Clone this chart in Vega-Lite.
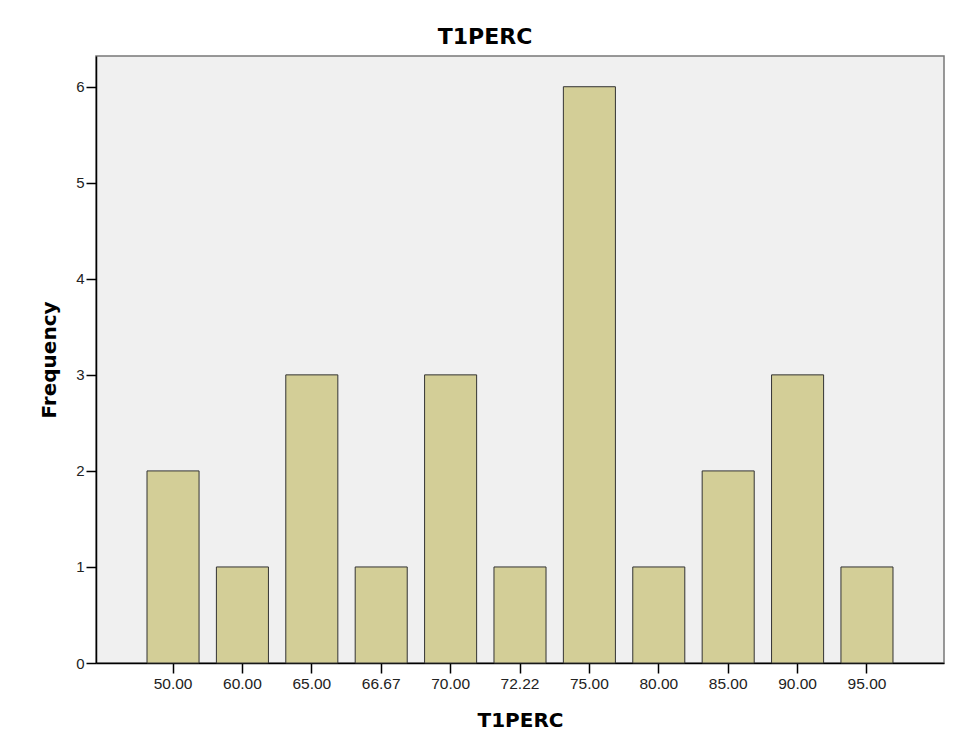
{
  "$schema": "https://vega.github.io/schema/vega-lite/v6.json",
  "autosize": {"type": "none"},
  "padding": {"left": 96, "top": 56, "right": 19, "bottom": 86},
  "width": 848,
  "height": 607,
  "background": "#ffffff",
  "title": {
    "text": "T1PERC",
    "font": "DejaVu Sans",
    "fontSize": 22,
    "fontWeight": "bold",
    "color": "#000000",
    "anchor": "middle",
    "baseline": "alphabetic",
    "offset": 12,
    "dx": -35,
    "dy": 22
  },
  "data": {
    "values": [
      {"T1PERC": "50.00", "Frequency": 2},
      {"T1PERC": "60.00", "Frequency": 1},
      {"T1PERC": "65.00", "Frequency": 3},
      {"T1PERC": "66.67", "Frequency": 1},
      {"T1PERC": "70.00", "Frequency": 3},
      {"T1PERC": "72.22", "Frequency": 1},
      {"T1PERC": "75.00", "Frequency": 6},
      {"T1PERC": "80.00", "Frequency": 1},
      {"T1PERC": "85.00", "Frequency": 2},
      {"T1PERC": "90.00", "Frequency": 3},
      {"T1PERC": "95.00", "Frequency": 1}
    ]
  },
  "mark": {"type": "bar", "fill": "#d3ce97", "stroke": "#333333", "strokeWidth": 1},
  "encoding": {
    "x": {
      "field": "T1PERC",
      "type": "ordinal",
      "sort": null,
      "scale": {"paddingInner": 0.25, "paddingOuter": 0.735},
      "axis": {
        "title": "T1PERC",
        "titleFont": "DejaVu Sans",
        "titleFontSize": 20,
        "titleFontWeight": "bold",
        "titleColor": "#000000",
        "titleBaseline": "alphabetic",
        "titleY": 63,
        "labelAngle": 0,
        "labelFont": "Liberation Sans",
        "labelFontSize": 15.5,
        "labelColor": "#222222",
        "labelPadding": 3,
        "tickSize": 10,
        "tickColor": "#000000",
        "tickWidth": 1.5,
        "domainColor": "#000000",
        "domainWidth": 1.5
      }
    },
    "y": {
      "field": "Frequency",
      "type": "quantitative",
      "scale": {"domain": [0, 6.32], "nice": false},
      "axis": {
        "title": "Frequency",
        "values": [0, 1, 2, 3, 4, 5, 6],
        "format": "d",
        "grid": false,
        "titleFont": "DejaVu Sans",
        "titleFontSize": 20,
        "titleFontWeight": "bold",
        "titleColor": "#000000",
        "titleAngle": -90,
        "titleBaseline": "alphabetic",
        "titleX": -41,
        "titleY": 303.5,
        "labelFont": "Liberation Sans",
        "labelFontSize": 15,
        "labelColor": "#222222",
        "labelPadding": 2,
        "tickSize": 10,
        "tickColor": "#000000",
        "tickWidth": 1.5,
        "domainColor": "#000000",
        "domainWidth": 1.5
      }
    }
  },
  "config": {
    "view": {"fill": "#f0f0f0", "stroke": "#777777", "strokeWidth": 1.5}
  }
}
